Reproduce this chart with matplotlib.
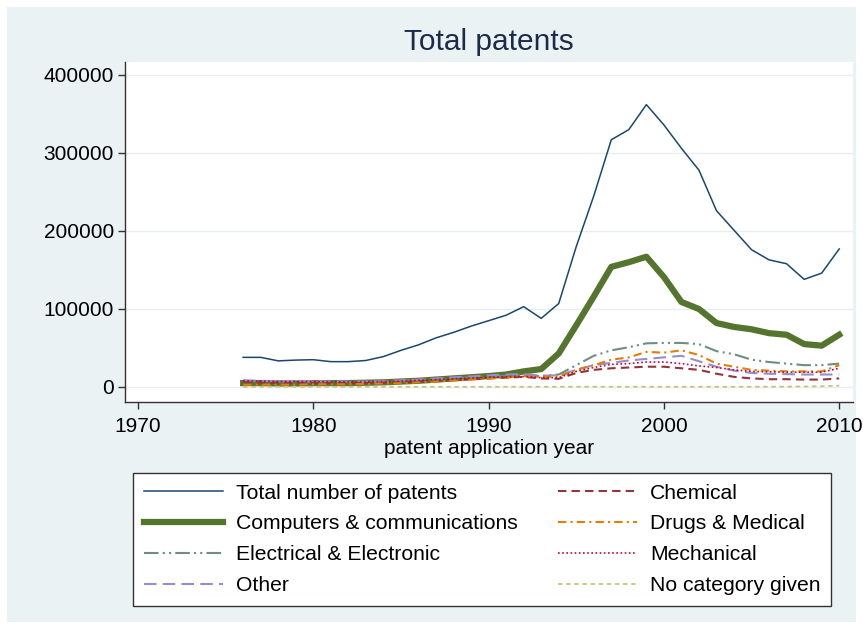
"""
Total patents by technology category, 1976-2010 (Stata s2color look).
"""

import matplotlib
matplotlib.use("Agg")
import matplotlib.pyplot as plt
from matplotlib.patches import Rectangle

plt.rcParams["font.family"] = ["Liberation Sans", "DejaVu Sans"]

W, H = 863, 629

years = list(range(1976, 2011))

total = [38000, 38000, 33500, 34500, 35000, 32500, 32500, 34000, 39000, 47000,
         54000, 63000, 70000, 78000, 85000, 92000, 103000, 88000, 107000, 180000,
         245000, 317000, 330000, 362000, 336000, 306000, 278000, 226000, 201000, 176000,
         163000, 158000, 138000, 146000, 177000]

computers = [5000, 5000, 4500, 4500, 5000, 5000, 5000, 5500, 6000, 7000,
             8000, 9500, 11000, 12500, 14000, 16000, 20000, 23000, 43000, 79000,
             116000, 154000, 160000, 167000, 141000, 109000, 100000, 82000, 77000, 74000,
             69000, 67000, 55000, 53000, 67000]

electrical = [8000, 7500, 7000, 7000, 7000, 6500, 6500, 6500, 7000, 8000,
              9000, 10000, 11500, 12500, 13500, 14500, 15500, 14000, 16000, 28000,
              40000, 47000, 51000, 56000, 56500, 56500, 55000, 46000, 42000, 35000,
              32000, 30000, 28000, 28000, 30000]

other = [8500, 8000, 7500, 7500, 7500, 7000, 7000, 7000, 7500, 8500,
         9500, 11000, 12500, 13500, 15000, 16000, 16500, 14500, 15000, 22000,
         28000, 31000, 34000, 36000, 38000, 40000, 33000, 26000, 21000, 18000,
         17000, 16500, 16000, 16000, 16000]

chemical = [6000, 5500, 5000, 5000, 5000, 5000, 5000, 5000, 5500, 6000,
            7000, 8000, 9000, 10000, 11000, 12000, 13000, 11000, 10500, 18000,
            22000, 24000, 25000, 26000, 26000, 24000, 22000, 17000, 13000, 11000,
            10000, 10000, 9500, 9500, 11000]

drugs = [3000, 3000, 3000, 3000, 3500, 3500, 3500, 4000, 4500, 5000,
         6000, 7000, 8500, 9500, 11000, 12000, 14000, 13000, 13500, 22000,
         28000, 35000, 38000, 45000, 44000, 47000, 41000, 30000, 26000, 22000,
         21000, 20000, 20000, 20000, 28000]

mechanical = [8000, 7500, 7000, 7000, 7000, 6500, 6500, 6500, 7000, 7500,
              8500, 9500, 10500, 11500, 12500, 13000, 13500, 12000, 12000, 20000,
              25000, 29000, 30000, 32000, 32000, 30000, 27000, 25000, 22000, 20000,
              19500, 19000, 19000, 19000, 24000]

no_category = [300, 300, 300, 300, 300, 300, 300, 300, 300, 300,
               300, 300, 300, 300, 300, 300, 300, 300, 300, 300,
               300, 300, 300, 300, 300, 300, 300, 300, 300, 300,
               400, 500, 700, 1000, 1800]

x_ticks = [1970, 1980, 1990, 2000, 2010]
y_ticks = [0, 100000, 200000, 300000, 400000]

# label, values, colour, width, dash
SERIES = [
    ("Total number of patents", total, "#1A476F", 1.1, "-"),
    ("Computers & communications", computers, "#55752F", 4.5, "-"),
    ("Electrical & Electronic", electrical, "#6E8E84", 1.5, (0, (7, 2, 1, 2, 1, 2))),
    ("Other", other, "#938DD2", 1.5, (0, (6, 3))),
    ("Chemical", chemical, "#90353B", 1.5, (0, (4, 2.5))),
    ("Drugs & Medical", drugs, "#E37E00", 1.5, (0, (4, 2, 1, 2))),
    ("Mechanical", mechanical, "#C10534", 1.2, (0, (1, 1.5))),
    ("No category given", no_category, "#CAC27E", 1.3, (0, (2.5, 2))),
]

fig = plt.figure(figsize=(W / 100, H / 100), dpi=100, facecolor="white")
fig.patches.append(Rectangle((7 / W, 7 / H), (W - 14) / W, (H - 14) / H,
                             transform=fig.transFigure, facecolor="#EAF2F3",
                             edgecolor="none", zorder=-10))

ax = fig.add_axes([125 / W, 1 - 402 / H, (853 - 125) / W, (402 - 62) / H])
ax.set_zorder(2)
ax.set_facecolor("white")

for label, vals, color, lw, ls in SERIES:
    ax.plot(years, vals, color=color, lw=lw, linestyle=ls, label=label,
            solid_joinstyle="round")

# x: 1970 at px 138, 17.53 px per year; y: 0 at px 387, 312 px per 400000
ax.set_xlim(1970 - 13 / 17.53, 1970 + 715 / 17.53)
ax.set_ylim(-15 / 312 * 400000, 400000 + 13 / 312 * 400000)
ax.set_xticks(x_ticks)
ax.set_yticks(y_ticks)
ax.set_yticklabels([str(v) for v in y_ticks])
ax.tick_params(axis="both", direction="out", length=5, width=1, color="#333333",
               labelsize=15, labelcolor="black")
ax.tick_params(axis="x", pad=6)
ax.tick_params(axis="y", pad=3)
ax.grid(axis="y", color="#E6EEF0", lw=1.0)
ax.set_axisbelow(True)
for side in ("top", "right"):
    ax.spines[side].set_visible(False)
for side in ("left", "bottom"):
    ax.spines[side].set_color("#333333")
    ax.spines[side].set_linewidth(1.0)

fig.text(489 / W, 1 - 42 / H, "Total patents", ha="center", va="center",
         fontsize=21.5, color="#1C2B4A")
fig.text(489 / W, 1 - 449 / H, "patent application year", ha="center",
         va="center", fontsize=15, color="black")

leg = fig.legend(*ax.get_legend_handles_labels(), ncol=2,
                 loc="upper left", borderaxespad=0,
                 bbox_to_anchor=(133 / W, 1 - 473 / H),
                 fontsize=15.2, frameon=True, fancybox=False, edgecolor="#333333",
                 facecolor="white", framealpha=1, handlelength=3.75,
                 handletextpad=0.62, labelspacing=0.56, borderpad=0.5,
                 columnspacing=1.9)
leg.get_frame().set_linewidth(1.0)

fig.savefig("out.png", dpi=100, facecolor="white")
